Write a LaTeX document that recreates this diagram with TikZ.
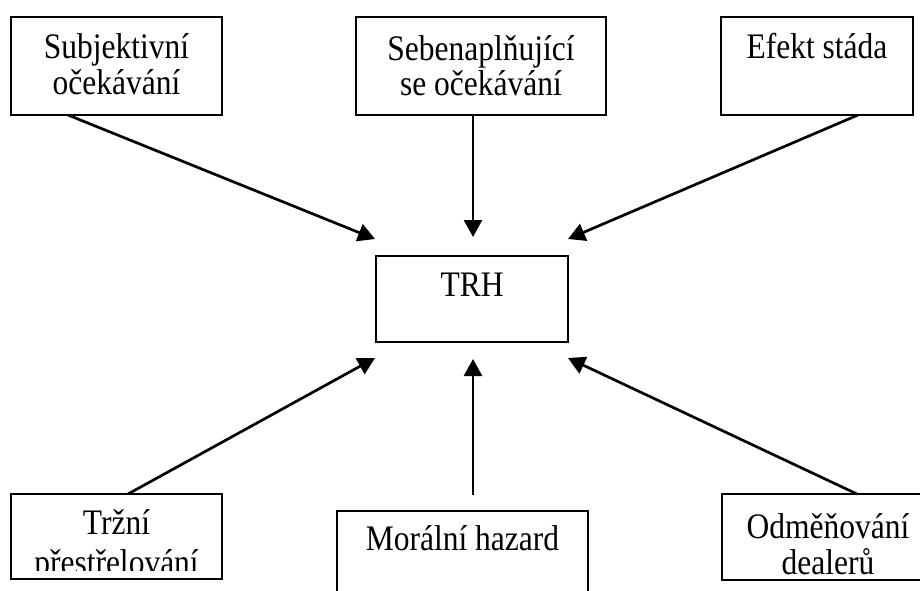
\documentclass[tikz,border=0pt]{standalone}
\usepackage{fontspec}
\usepackage{graphicx}
\setmainfont{Liberation Serif}
\usetikzlibrary{arrows.meta}
\newcommand\tallTxt[1]{\scalebox{1}[1.14]{#1}}
\begin{document}
\begin{tikzpicture}[x=1pt,y=-1pt,
  box/.style={draw=black,line width=1.8pt,inner sep=0pt},
  lbl/.style={anchor=base,inner sep=0pt,font=\fontsize{31.5}{36}\selectfont},
  arr/.style={line width=2.7pt,-{Triangle[length=17pt,width=18pt]}}]
\useasboundingbox (0,0) rectangle (920,590);
\clip (0,0) rectangle (920,590);
% boxes
\node[box,minimum width=211pt,minimum height=98pt] (b1) at (116.5,66) {};
\node[box,minimum width=250pt,minimum height=98pt] (b2) at (481,66) {};
\node[box,minimum width=192pt,minimum height=98pt] (b3) at (817,66) {};
\node[box,minimum width=192pt,minimum height=86pt] (trh) at (472,299) {};
\node[box,minimum width=211pt,minimum height=85pt] (b4) at (116.5,536.5) {};
\node[box,minimum width=251pt,minimum height=110pt] (b5) at (462.5,566) {};
\node[box,minimum width=212pt,minimum height=86pt] (b6) at (828,537) {};
% texts
\node[lbl] (t1a) at (116.5,58) {\tallTxt{Subjektivní}};
\node[lbl] (t1b) at (116.5,94) {\tallTxt{očekávání}};
\node[lbl] (t2a) at (481,60) {\tallTxt{Sebenaplňující}};
\node[lbl] (t2b) at (481,95) {\tallTxt{se očekávání}};
\node[lbl] (t3) at (817,58) {\tallTxt{Efekt stáda}};
\node[lbl] (tt) at (472,296) {\tallTxt{TRH}};
\node[lbl] (t4a) at (116.5,534) {\tallTxt{Tržní}};
\begin{scope}
\clip (12,495) rectangle (221,570);
\node[lbl] (t4b) at (116.5,574) {\tallTxt{přestřelování}};
\end{scope}
\node[lbl] (t5) at (462.5,550) {\tallTxt{Morální hazard}};
\node[lbl] (t6a) at (828,538) {\tallTxt{Odměňování}};
\node[lbl] (t6b) at (828,574) {\tallTxt{dealerů}};
% arrow end points
\coordinate (s1) at (68,115);
\coordinate (s2) at (473,115);
\coordinate (s3) at (858,115);
\coordinate (s4) at (128,494);
\coordinate (s5) at (473,495);
\coordinate (s6) at (857,494);
\coordinate (e1) at (375,239);
\coordinate (e2) at (473,237);
\coordinate (e3) at (568,239);
\coordinate (e4) at (375,358);
\coordinate (e5) at (473,359);
\coordinate (e6) at (568,358);
\draw[arr] (s1) -- (e1);
\draw[arr] (s2) -- (e2);
\draw[arr] (s3) -- (e3);
\draw[arr] (s4) -- (e4);
\draw[arr] (s5) -- (e5);
\draw[arr] (s6) -- (e6);
\end{tikzpicture}
\end{document}
